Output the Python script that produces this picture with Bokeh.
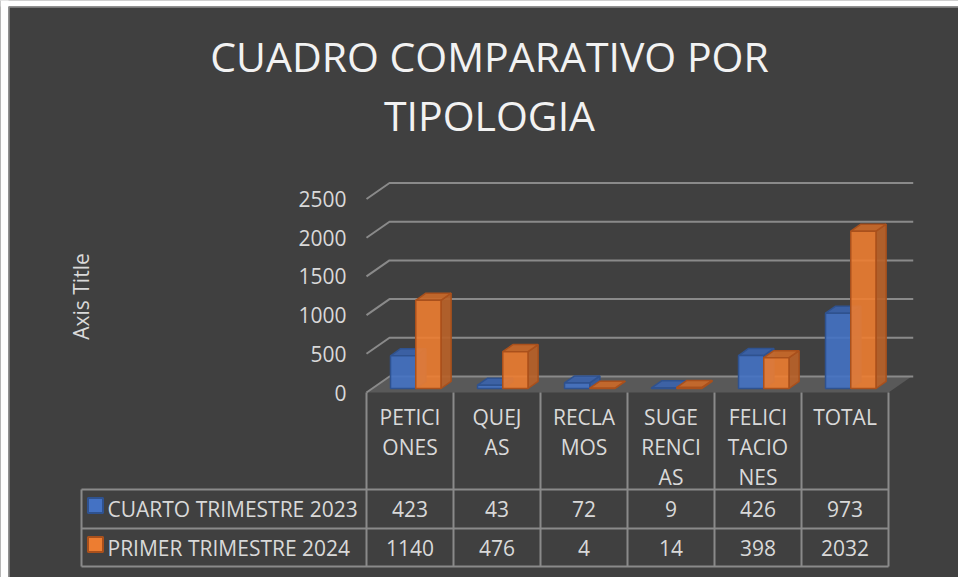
import math
from bokeh.plotting import figure
from bokeh.models import Range1d
from bokeh.core.properties import value
from bokeh.embed import file_html
from bokeh.resources import INLINE

# ---------------- data ----------------
categories = ["PETICIONES", "QUEJAS", "RECLAMOS", "SUGERENCIAS", "FELICITACIONES", "TOTAL"]
category_lines = [["PETICI", "ONES"], ["QUEJ", "AS"], ["RECLA", "MOS"],
                  ["SUGE", "RENCI", "AS"], ["FELICI", "TACIO", "NES"], ["TOTAL"]]
series_names = ["CUARTO TRIMESTRE 2023", "PRIMER TRIMESTRE 2024"]
cuarto_2023 = [423, 43, 72, 9, 426, 973]
primer_2024 = [1140, 476, 4, 14, 398, 2032]
y_ticks = [0, 500, 1000, 1500, 2000, 2500]
title_lines = ["CUADRO COMPARATIVO POR", "TIPOLOGIA"]
axis_title = "Axis Title"

# ---------------- layout (page pixels -> data) ----------------
W, H = 958, 577
FL, FT = 8, 6                     # chart area left / top offset on the page
PX0, CAT_W = 366.0, 87.0          # page x of category 0 front edge, px per category
PY0, K = 392.0, 0.0774            # page y of front floor, px per value unit
def X(px): return (px - PX0) / CAT_W
def Y(py): return (PY0 - py) / K

DEPTH_DX = 23.0 / CAT_W           # full floor depth offset in data units
DEPTH_DY = 16.0 / K
BAR_D0, BAR_D1 = 0.25, 0.69       # bar front/back depth fractions
BAR_W = 0.29

FONT = value("Open Sans")
TXT = "#D9D9D9"
BG = "#404040"
GRID = "#8A8A8A"

p = figure(width=W, height=H, output_backend="svg", toolbar_location=None,
           x_range=Range1d(X(0), X(W)), y_range=Range1d(Y(H), Y(0)),
           min_border=0, min_border_left=0, min_border_top=0,
           min_border_right=0, min_border_bottom=0,
           background_fill_color=BG, border_fill_color=BG)
p.axis.visible = False
p.grid.visible = False
p.outline_line_color = None

# ---- page strips outside the chart area + chart border ----
p.quad(left=[X(0), X(0)], right=[X(FL), X(W + 20)], bottom=[Y(H + 20), Y(FT)], top=[Y(-20), Y(-20)],
       fill_color="white", line_color=None)
p.line([X(FL + 0.5), X(FL + 0.5), X(W + 20)], [Y(H + 20), Y(FT + 0.5), Y(FT + 0.5)],
       line_color="#8C8C8C", line_width=1.5)

# ---- floor ----
n = len(categories)
p.patch([0, DEPTH_DX, n + DEPTH_DX, n], [0, DEPTH_DY, DEPTH_DY, 0],
        fill_color="#595959", line_color=None)

# ---- gridlines (side wall diagonal + back wall) ----
gx, gy = [], []
for t in y_ticks:
    gx.append([0, DEPTH_DX, n + DEPTH_DX + 0.02])
    gy.append([t, t + DEPTH_DY, t + DEPTH_DY])
p.multi_line(gx, gy, line_color=GRID, line_width=2)

# ---- 3D bars ----
def bar_faces(x0, x1, v):
    fx0, fy0 = BAR_D0 * DEPTH_DX, BAR_D0 * DEPTH_DY
    bx, by = (BAR_D1 - BAR_D0) * DEPTH_DX, (BAR_D1 - BAR_D0) * DEPTH_DY
    xa, xb = x0 + fx0, x1 + fx0
    ya, yb = fy0, fy0 + v
    front = ([xa, xb, xb, xa], [ya, ya, yb, yb])
    top = ([xa, xb, xb + bx, xa + bx], [yb, yb, yb + by, yb + by])
    side = ([xb, xb + bx, xb + bx, xb], [ya, ya + by, yb + by, yb])
    return front, top, side

styles = [
    dict(front="#4472C4", top="#3B63AB", side="#355A9E", line="#2F528F"),
    dict(front="#ED7D31", top="#C9692A", side="#B8622A", line="#A9501C"),
]
series = [cuarto_2023, primer_2024]
for i in range(n):
    for s, vals in enumerate(series):
        x0 = i + 0.5 + (s - 1) * BAR_W
        x1 = x0 + BAR_W
        front, top, side = bar_faces(x0, x1, vals[i])
        st = styles[s]
        p.patch(side[0], side[1], fill_color=st["side"], line_color=st["line"], line_width=1.5, fill_alpha=0.93)
        p.patch(top[0], top[1], fill_color=st["top"], line_color=st["line"], line_width=1.5, fill_alpha=0.93)
        p.patch(front[0], front[1], fill_color=st["front"], line_color=st["line"], line_width=1.5, fill_alpha=0.9)

# ---- y tick labels ----
p.text(x=[X(346)] * len(y_ticks), y=y_ticks, text=[str(t) for t in y_ticks],
       text_font=FONT, text_font_size="21px", text_color=TXT,
       text_align="right", text_baseline="middle")

# ---- axis title ----
p.text(x=[X(80)], y=[Y(296)], text=[axis_title], angle=math.pi / 2,
       text_font=FONT, text_font_size="21px", text_color=TXT,
       text_align="center", text_baseline="middle")

# ---- chart title ----
p.text(x=[X(489), X(489)], y=[Y(55), Y(114)], text=title_lines,
       text_font=FONT, text_font_size="41px", text_color="#F2F2F2",
       text_align="center", text_baseline="middle")

# ---- data table ----
ROW_TOP, ROW1, ROW2 = 489, 528, 566
TABLE_LEFT = 81
hx = [[X(TABLE_LEFT), n] for _ in range(3)]
hy = [[Y(r), Y(r)] for r in (ROW_TOP, ROW1, ROW2)]
vx = [[i, i] for i in range(n + 1)] + [[X(TABLE_LEFT), X(TABLE_LEFT)]]
vy = [[0, Y(ROW2)] for _ in range(n + 1)] + [[Y(ROW_TOP), Y(ROW2)]]
p.multi_line(hx + vx, hy + vy, line_color=GRID, line_width=2)

hdr_x, hdr_y, hdr_t = [], [], []
for i, lines in enumerate(category_lines):
    for j, ln in enumerate(lines):
        hdr_x.append(i + 0.5)
        hdr_y.append(Y(416 + 30 * j))
        hdr_t.append(ln)
p.text(x=hdr_x, y=hdr_y, text=hdr_t, text_font=FONT, text_font_size="21px",
       text_color=TXT, text_align="center", text_baseline="middle")

row_centers = [508.5, 547]
cx, cy, ct = [], [], []
for r, vals in enumerate(series):
    for i, v in enumerate(vals):
        cx.append(i + 0.5)
        cy.append(Y(row_centers[r]))
        ct.append(str(v))
p.text(x=cx, y=cy, text=ct, text_font=FONT, text_font_size="21px",
       text_color=TXT, text_align="center", text_baseline="middle")

p.scatter(x=[X(95), X(95)], y=[Y(505), Y(544)], marker="square", size=15,
          fill_color=[styles[0]["front"], styles[1]["front"]],
          line_color=[styles[0]["line"], styles[1]["line"]], line_width=2)
p.text(x=[X(107), X(107)], y=[Y(c) for c in row_centers], text=series_names,
       text_font=FONT, text_font_size="21px", text_color=TXT,
       text_align="left", text_baseline="middle")

open("out.html", "w").write(file_html(p, INLINE))
